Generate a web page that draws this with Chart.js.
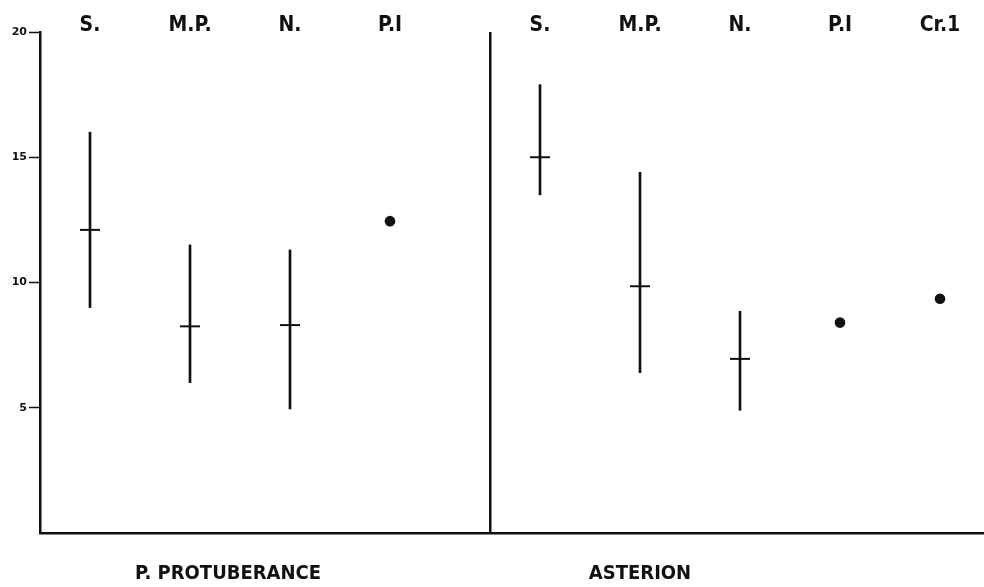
<!DOCTYPE html>
<html>
<head>
<meta charset="utf-8">
<script src="https://cdn.jsdelivr.net/npm/chart.js@4/dist/chart.umd.min.js"></script>
<style>
  html, body { margin: 0; background: #fff; overflow: hidden; }
  #wrap { width: 984px; height: 587px; }
  canvas { display: block; }
</style>
</head>
<body>
<div id="wrap"><canvas id="chart"></canvas></div>
<script>
// categories of the two panels
let leftCats = ['S.', 'M.P.', 'N.', 'P.I'];
let rightCats = ['S.', 'M.P.', 'N.', 'P.I', 'Cr.1'];
let groupTitles = ['P. PROTUBERANCE', 'ASTERION'];
let yTicks = [5, 10, 15, 20];

// P. protuberance
let leftMean = [12.1, 8.25, 8.3, null];
let leftLow = [9.0, 6.0, 4.95, null];
let leftHigh = [16.0, 11.5, 11.3, null];
let leftSingle = [null, null, null, 12.45];

// asterion
let rightMean = [15.0, 9.85, 6.95, null, null];
let rightLow = [13.5, 6.4, 4.9, null, null];
let rightHigh = [17.9, 14.4, 8.85, null, null];
let rightSingle = [null, null, null, 8.4, 9.35];

// layout of the categories on a linear x scale
const leftX = i => i + 0.5;
const rightX = i => i + 5;
const dividerX = 4.5;
const titleX = [1.88, 6.0];

const ink = '#111';
const family = "'DejaVu Sans', sans-serif";

let ranges = [], means = [], singles = [];
leftCats.forEach((c, i) => {
    if (leftLow[i] != null) ranges.push({ x: leftX(i), y: [leftLow[i], leftHigh[i]] });
    if (leftMean[i] != null) means.push({ x: leftX(i), y: leftMean[i] });
    if (leftSingle[i] != null) singles.push({ x: leftX(i), y: leftSingle[i] });
});
rightCats.forEach((c, i) => {
    if (rightLow[i] != null) ranges.push({ x: rightX(i), y: [rightLow[i], rightHigh[i]] });
    if (rightMean[i] != null) means.push({ x: rightX(i), y: rightMean[i] });
    if (rightSingle[i] != null) singles.push({ x: rightX(i), y: rightSingle[i] });
});

let topTicks = leftCats.map((c, i) => ({ value: leftX(i), label: c }))
    .concat(rightCats.map((c, i) => ({ value: rightX(i), label: c })));
let bottomTicks = [
    { value: titleX[0], label: groupTitles[0] },
    { value: dividerX, label: '' },
    { value: titleX[1], label: groupTitles[1] }
];

const data = {
    datasets: [{
        type: 'bar',
        data: ranges,
        backgroundColor: ink,
        borderWidth: 0,
        barThickness: 2,
        order: 3
    }, {
        type: 'scatter',
        data: means,
        pointStyle: 'line',
        pointRadius: 10,
        borderColor: ink,
        borderWidth: 2,
        order: 2
    }, {
        type: 'scatter',
        data: singles,
        pointStyle: 'circle',
        pointRadius: 5.3,
        backgroundColor: ink,
        borderColor: ink,
        borderWidth: 0,
        order: 1
    }]
};

const options = {
    responsive: true,
    maintainAspectRatio: false,
    animation: false,
    layout: { padding: 0, autoPadding: false },
    plugins: {
        legend: { display: false },
        tooltip: { enabled: false }
    },
    scales: {
        x: {
            type: 'linear',
            position: 'bottom',
            offset: false,
            min: 0,
            max: 9.44,
            afterBuildTicks: s => { s.ticks = bottomTicks.map(t => ({ value: t.value })); },
            afterFit: s => { s.height = 54; },
            ticks: {
                autoSkip: false,
                maxRotation: 0,
                padding: 31,
                color: ink,
                font: { family, size: 20, weight: 'bold condensed', lineHeight: 1 },
                callback: (v, i) => bottomTicks[i].label
            },
            grid: {
                offset: false,
                drawTicks: false,
                lineWidth: 2.5,
                color: ctx => (ctx.tick && ctx.tick.value === dividerX) ? ink : 'rgba(0,0,0,0)'
            },
            border: { display: true, color: ink, width: 2.5 }
        },
        xTop: {
            type: 'linear',
            position: 'top',
            offset: false,
            min: 0,
            max: 9.44,
            afterBuildTicks: s => { s.ticks = topTicks.map(t => ({ value: t.value })); },
            afterFit: s => { s.height = 32; },
            ticks: {
                autoSkip: false,
                maxRotation: 0,
                padding: -4,
                color: ink,
                font: { family, size: 21, weight: 'bold condensed', lineHeight: 1 },
                callback: (v, i) => topTicks[i].label
            },
            grid: { display: false, drawTicks: false, offset: false },
            border: { display: false }
        },
        y: {
            min: 0,
            max: 20,
            afterBuildTicks: s => { s.ticks = yTicks.map(v => ({ value: v })); },
            afterFit: s => { s.width = 40; },
            ticks: {
                color: ink,
                padding: 2,
                font: { family, size: 11, weight: 'bold' }
            },
            grid: {
                drawOnChartArea: false,
                tickLength: 11,
                tickWidth: 1.5,
                tickColor: ink
            },
            border: { display: true, color: ink, width: 2.5 }
        }
    }
};

let ctx = document.getElementById('chart').getContext('2d');
let chart = new Chart(ctx, {
    type: 'bar',
    data,
    options
});
</script>
</body>
</html>
